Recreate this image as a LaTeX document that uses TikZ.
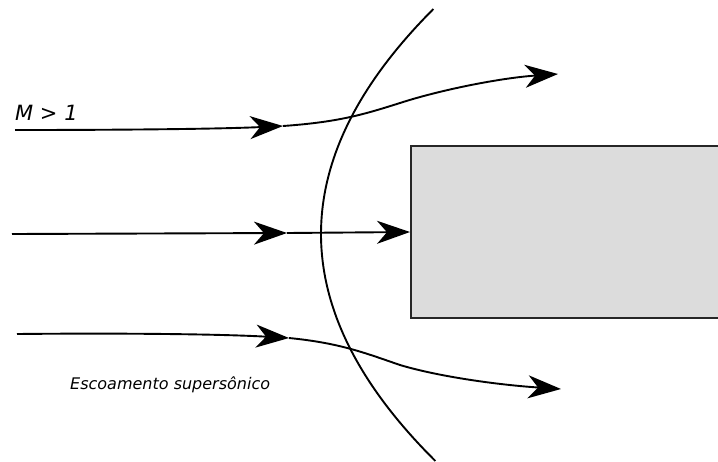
\documentclass[tikz,border=0pt]{standalone}
\usepackage{fontspec}
\setmainfont{DejaVu Sans}
\usetikzlibrary{arrows.meta}
\definecolor{bodygray}{HTML}{DCDCDC}
\definecolor{edgegray}{HTML}{262626}
\begin{document}
\begin{tikzpicture}[x=1pt,y=-1pt,
  flow/.style={line width=1.9pt,black,-{Stealth[length=33pt,width=23pt,inset=10pt]}},
  shock/.style={line width=1.9pt,black},
  bodybox/.style={draw=edgegray,fill=bodygray,line width=1.9pt},
  lbl/.style={inner sep=0pt,anchor=base west,font=\itshape}]
\useasboundingbox (0,0) rectangle (718,461);
% body
\path[bodybox] (728,146) -- (411,146) -- (411,318) -- (728,318);
\coordinate (bodyface) at (410,232);
% shock wave
\draw[shock] plot[domain=9:461,samples=80,variable=\t] ({321+22.2*((\t-234)/100)^2},\t);
% top streamline
\coordinate (t0) at (15,130);
\coordinate (t1) at (283,126);
\coordinate (t2) at (558,74);
\draw[flow] (t0) .. controls (120,130) and (220,129) .. (t1);
\draw[flow] (t1) .. controls (340,122) and (365,114) .. (400,103) .. controls (440,90) and (500,78) .. (t2);
% middle streamline
\coordinate (m0) at (12,234);
\coordinate (m1) at (287,233);
\draw[flow] (m0) -- (m1);
\draw[flow] (m1) -- (bodyface);
% bottom streamline
\coordinate (b0) at (17,334);
\coordinate (b1) at (289,338);
\coordinate (b2) at (561,389);
\draw[flow] (b0) .. controls (120,333) and (220,334) .. (b1);
\draw[flow] (b1) .. controls (340,343) and (365,353) .. (400,365) .. controls (440,377) and (500,385) .. (b2);
% labels
\node[lbl,font=\itshape\fontsize{21}{23}\selectfont] (mach) at (15,120) {M > 1};
\node[lbl,font=\itshape\fontsize{16}{18}\selectfont] (flowlbl) at (70,389) {Escoamento supersônico};
\end{tikzpicture}
\end{document}
